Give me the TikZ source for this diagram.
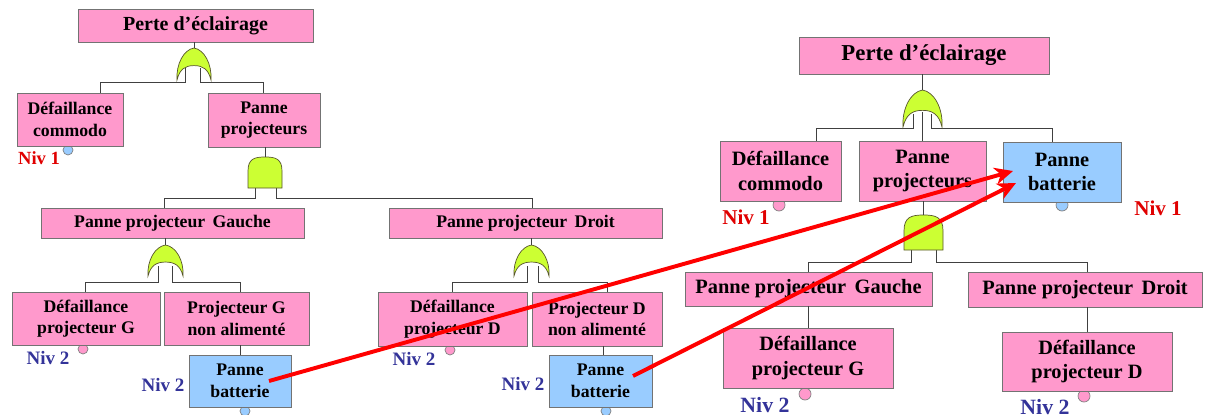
\documentclass[tikz,border=0pt]{standalone}
\usepackage{fontspec}
\setmainfont{Liberation Serif}
\usetikzlibrary{arrows.meta,calc}
\definecolor{pinkbox}{HTML}{FF99CC}
\definecolor{bluebox}{HTML}{99CCFF}
\definecolor{gatefill}{HTML}{CCFF33}
\definecolor{nivred}{HTML}{E00000}
\definecolor{nivblue}{HTML}{333399}
\definecolor{wirecol}{HTML}{404040}
\newcommand\bx[7]{\node[#2, minimum width={0.025cm*(#5-#3)}, minimum height={0.025cm*(#6-#4)}] (#1) at ({(#3+#5)/2},{(#4+#6)/2}) {#7};}
\newcommand\orgt[5]{%
 \pgfmathsetmacro\GXc{(#2+#3)/2}\pgfmathsetmacro\GXw{#3-#2}\pgfmathsetmacro\GXh{#5-#4}%
 \draw[gatest] (#2,#5) .. controls ({#2-0.03*\GXw},{#4+0.5*\GXh}) and ({\GXc-0.3*\GXw},{#4+0.05*\GXh}) .. (\GXc,#4)
   .. controls ({\GXc+0.3*\GXw},{#4+0.05*\GXh}) and ({#3+0.03*\GXw},{#4+0.5*\GXh}) .. (#3,#5)
   .. controls ({#3-0.08*\GXw},{#5-0.35*\GXh}) and ({\GXc+0.25*\GXw},{#5-0.45*\GXh}) .. (\GXc,{#5-0.45*\GXh})
   .. controls ({\GXc-0.25*\GXw},{#5-0.45*\GXh}) and ({#2+0.08*\GXw},{#5-0.35*\GXh}) .. (#2,#5) -- cycle;
 \coordinate (#1) at (\GXc,#4);}
\newcommand\andgt[5]{%
 \pgfmathsetmacro\GXc{(#2+#3)/2}\pgfmathsetmacro\GXw{#3-#2}\pgfmathsetmacro\GXh{#5-#4}%
 \draw[gatest] (#2,#5) -- (#2,{#4+0.45*\GXh}) .. controls (#2,{#4+0.05*\GXh}) and ({\GXc-0.3*\GXw},#4) .. (\GXc,#4)
   .. controls ({\GXc+0.3*\GXw},#4) and (#3,{#4+0.05*\GXh}) .. (#3,{#4+0.45*\GXh}) -- (#3,#5) -- cycle;
 \coordinate (#1) at (\GXc,#4);}
\begin{document}
\begin{tikzpicture}[x=0.025cm,y=-0.025cm,
  box/.style={draw=black!55, line width=0.6pt, inner sep=0pt, outer sep=0pt, align=center, font=\bfseries},
  pbox/.style={box, fill=pinkbox},
  bbox/.style={box, fill=bluebox},
  lsz/.style={font=\fontsize{12.6}{15.4}\selectfont\bfseries},
  ltt/.style={font=\fontsize{14.2}{17}\selectfont\bfseries},
  rsz/.style={font=\fontsize{14.5}{17.6}\selectfont\bfseries},
  rtt/.style={font=\fontsize{16.2}{19}\selectfont\bfseries},
  wire/.style={draw=wirecol, line width=0.6pt},
  gatest/.style={draw=black!50!olive, line width=0.5pt, fill=gatefill},
  dotp/.style={circle, draw=black!50, line width=0.5pt, fill=pinkbox, inner sep=0pt, minimum size=0.25cm},
  dotb/.style={circle, draw=black!50, line width=0.5pt, fill=bluebox, inner sep=0pt, minimum size=0.25cm},
  niv1/.style={text=nivred, font=\fontsize{13.2}{15}\selectfont\bfseries, inner sep=0pt},
  niv2/.style={text=nivblue, font=\fontsize{13.5}{15}\selectfont\bfseries, inner sep=0pt},
  rniv1/.style={text=nivred, font=\fontsize{15}{17}\selectfont\bfseries, inner sep=0pt},
  rniv2/.style={text=nivblue, font=\fontsize{15.5}{17}\selectfont\bfseries, inner sep=0pt},
  redarrow/.style={draw=red, line width=2.8pt, -{Stealth[length=13pt,width=12pt,inset=4pt]}}
]
\useasboundingbox (0,0) rectangle (1207,414);
% ---------- coordinates for connector ends
\coordinate (c1a) at (100,93);  \coordinate (c1b) at (263,93);
\coordinate (c2a) at (164,208); \coordinate (c2b) at (532,208);
\coordinate (c3a) at (85,292);  \coordinate (c3b) at (240,292);
\coordinate (c3c) at (452,292); \coordinate (c3d) at (607,292);
\coordinate (c4a) at (240,355); \coordinate (c4b) at (603,355);
\coordinate (o1l) at (185,68);  \coordinate (o1r) at (200,68);
\coordinate (a1l) at (255,186); \coordinate (a1r) at (276,186);
\coordinate (o2l) at (158,266); \coordinate (o2r) at (172,266);
\coordinate (o3l) at (527,266); \coordinate (o3r) at (538,266);
\coordinate (cR1a) at (816,141); \coordinate (cR1c) at (1052,142);
\coordinate (orl) at (913,114); \coordinate (orm) at (922.5,112); \coordinate (orr) at (931,114);
\coordinate (ral) at (911,248); \coordinate (rar) at (936,248);
\coordinate (cR2a) at (808,272); \coordinate (cR2b) at (1087,272);
\coordinate (cR3a) at (808,328); \coordinate (cR3b) at (1087,332);
% ---------- wires
\draw[wire] (o1l) -- ++(0,14) -| (c1a);
\draw[wire] (o1r) -- ++(0,14) -| (c1b);
\draw[wire] (a1l) -- ++(0,12) -| (c2a);
\draw[wire] (a1r) -- ++(0,12) -| (c2b);
\draw[wire] (o2l) -- ++(0,16) -| (c3a);
\draw[wire] (o2r) -- ++(0,16) -| (c3b);
\draw[wire] (o3l) -- ++(0,16) -| (c3c);
\draw[wire] (o3r) -- ++(0,16) -| (c3d);
\draw[wire] (orl) -- ++(0,14) -| (cR1a);
\draw[wire] (orr) -- ++(0,14) -| (cR1c);
\draw[wire] (ral) -- ++(0,14) -| (cR2a);
\draw[wire] (rar) -- ++(0,14) -| (cR2b);
% ---------- gates
\orgt{gO1}{177}{211}{48}{80}
\andgt{gA1}{248}{282}{157}{188}
\orgt{gO2}{148}{183}{245}{276}
\orgt{gO3}{514}{549}{245}{276}
\orgt{gR}{903}{942}{90}{127}
\andgt{gRa}{904}{943}{215}{250}
% ---------- dots
\node[dotb] (d1) at (68,150) {};
\node[dotp] (d2) at (83,349) {};
\node[dotb] (d3) at (245,411) {};
\node[dotp] (d4) at (450,350) {};
\node[dotb] (d5) at (606,411) {};
\node[dotp, minimum size=0.3cm] (d6) at (779,205) {};
\node[dotb, minimum size=0.3cm] (d7) at (1062,205) {};
\node[dotp, minimum size=0.3cm] (d8) at (805,394) {};
\node[dotp, minimum size=0.3cm] (d9) at (1084,396) {};
% ---------- boxes (left)
\bx{L0}{pbox,ltt}{78}{9}{313}{42}{Perte d’éclairage}
\bx{L1a}{pbox,lsz}{17}{93}{123}{146}{Défaillance\\commodo}
\bx{L1b}{pbox,lsz}{208}{93}{320}{147}{Panne\\projecteurs}
\bx{L2a}{pbox,lsz}{41}{208}{304}{238}{Panne projecteur\, Gauche}
\bx{L2b}{pbox,lsz}{389}{208}{662}{238}{Panne projecteur\, Droit}
\bx{L3a}{pbox,lsz}{12}{292}{160}{345}{Défaillance\\projecteur G}
\bx{L3b}{pbox,lsz}{164}{292}{309}{345}{Projecteur G\\non alimenté}
\bx{L3c}{pbox,lsz}{378}{292}{527}{346}{Défaillance\\projecteur D}
\bx{L3d}{pbox,lsz}{532}{292}{662}{346}{Projecteur D\\non alimenté}
\bx{L4a}{bbox,lsz}{189}{355}{291}{407}{Panne\\batterie}
\bx{L4b}{bbox,lsz}{549}{355}{652}{407}{Panne\\batterie}
% ---------- boxes (right)
\bx{R0}{pbox,rtt}{799}{37}{1049}{74}{Perte d’éclairage}
\bx{R1a}{pbox,rsz}{720}{141}{841}{201}{Défaillance\\commodo}
\bx{R1b}{pbox,rsz}{859}{141}{986}{201}{Panne\\projecteurs}
\bx{R1c}{bbox,rsz}{1003}{142}{1121}{202}{Panne\\batterie}
\bx{R2a}{pbox,rsz}{685}{272}{932}{306}{Panne projecteur\, Gauche}
\bx{R2b}{pbox,rsz}{968}{272}{1202}{307}{Panne projecteur\, Droit}
\bx{R3a}{pbox,rsz}{723}{328}{893}{388}{Défaillance\\projecteur G}
\bx{R3b}{pbox,rsz}{1002}{332}{1172}{391}{Défaillance\\projecteur D}
% ---------- vertical connectors between boxes and gates
\draw[wire] (gO1) -- (gO1 |- L0.south);
\draw[wire] (gA1) -- (gA1 |- L1b.south);
\draw[wire] (gO2) -- (gO2 |- L2a.south);
\draw[wire] (gO3) -- (gO3 |- L2b.south);
\draw[wire] (c4a) -- (c4a |- L3b.south);
\draw[wire] (c4b) -- (c4b |- L3d.south);
\draw[wire] (gR) -- (gR |- R0.south);
\draw[wire] (orm) -- (orm |- R1b.north);
\draw[wire] (gRa) -- (gRa |- R1b.south);
\draw[wire] (cR3a) -- (cR3a |- R2a.south);
\draw[wire] (cR3b) -- (cR3b |- R2b.south);
% ---------- level labels
\node[niv1] (n1) at (39,158) {Niv 1};
\node[niv2] (n2) at (48,358) {Niv 2};
\node[niv2] (n3) at (163,385) {Niv 2};
\node[niv2] (n4) at (414,359) {Niv 2};
\node[niv2] (n5) at (523,384) {Niv 2};
\node[rniv1] (n6) at (746,217) {Niv 1};
\node[rniv1] (n7) at (1158,208) {Niv 1};
\node[rniv2] (n8) at (765,405) {Niv 2};
\node[rniv2] (n9) at (1045,407) {Niv 2};
% ---------- red arrows
\coordinate (s1) at ($(L4a.center)+(29,0)$);
\coordinate (s2) at ($(L4b.center)+(32.5,-5)$);
\coordinate (e1) at ($(R1c.center)+(-49,-1)$);
\coordinate (e2) at ($(R1c.center)+(-46,11)$);
\draw[redarrow] (s1) -- (e1);
\draw[redarrow] (s2) -- (e2);
\end{tikzpicture}
\end{document}
